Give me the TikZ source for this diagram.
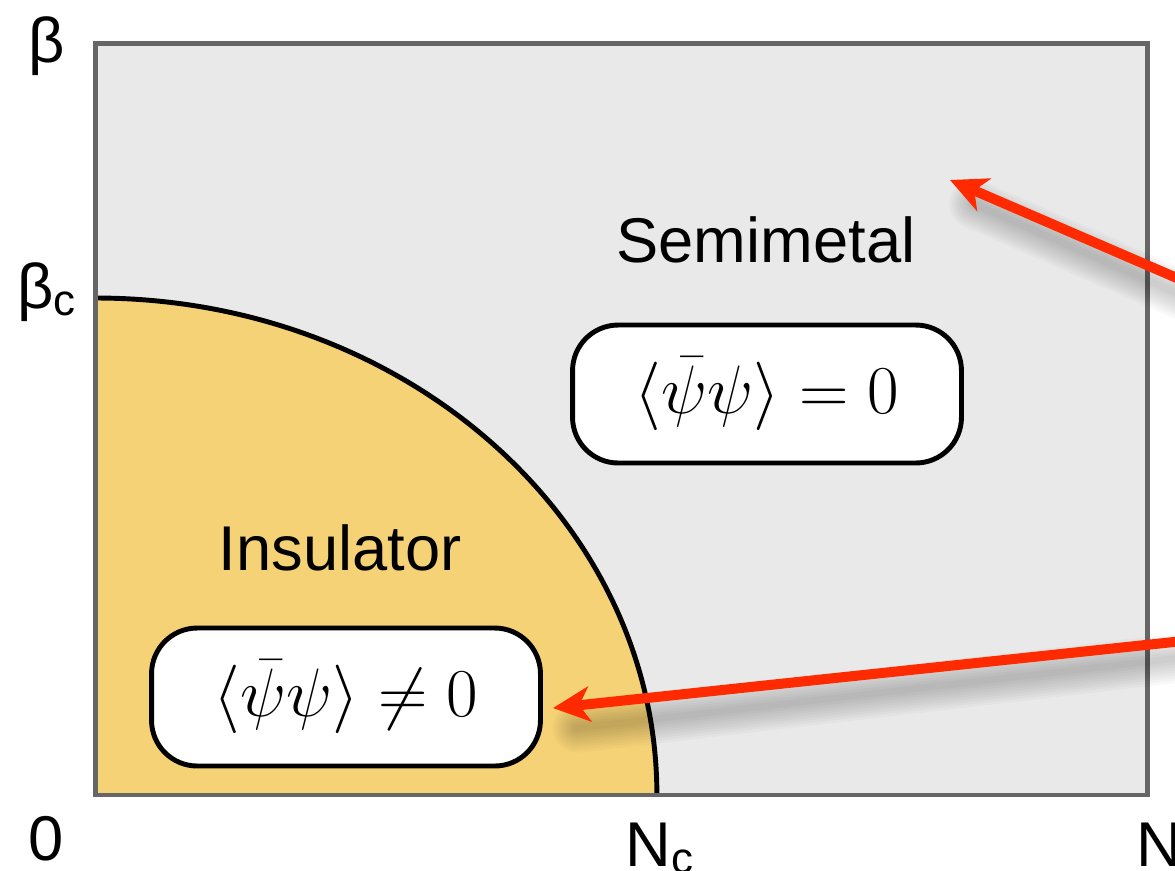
\documentclass[tikz,border=0pt]{standalone}
\usepackage{fix-cm}
\usepackage{fontspec}
\setmainfont{Liberation Sans}
\usetikzlibrary{arrows.meta,calc}
\definecolor{bgray}{HTML}{E9E9E9}
\definecolor{framegray}{HTML}{666666}
\definecolor{insyellow}{HTML}{F6D276}
\definecolor{arrred}{HTML}{FF2A00}
\newcommand\mysub[1]{\raisebox{-0.12em}{\fontsize{25}{25}\selectfont #1}}
\begin{document}
\begin{tikzpicture}[x=0.02cm,y=-0.02cm,
  lbl/.style={font=\fontsize{36}{40}\selectfont, inner sep=0pt, anchor=base},
  mbox/.style={draw=black, line width=2.8pt, fill=white, rounded corners=26pt,
    minimum width=7.78cm, minimum height=2.76cm, font=\fontsize{39}{42}\selectfont, inner sep=0pt},
  redarrow/.style={draw=arrred, line width=5.7pt, -{Stealth[length=21pt,width=20pt,inset=6pt]}},
  arrshadow/.style={draw=black, opacity=0.025, line cap=round},
]
\useasboundingbox (0,0) rectangle (1175,870);
% background region
\fill[bgray] (95.5,43.5) rectangle (1147.5,795);
% insulator region
\fill[insyellow] (95.5,795) -- (95.5,298) arc[start angle=90,end angle=0,x radius=11.23cm,y radius=9.94cm] -- cycle;
\draw[black, line width=2.8pt] (95.5,298) arc[start angle=90,end angle=0,x radius=11.23cm,y radius=9.94cm];
% frame
\draw[framegray, line width=2.8pt] (95.5,43.5) rectangle (1147.5,795);
% texts
\node[lbl] (semi) at (766,262) {Semimetal};
\node[lbl] (insul) at (340,570) {Insulator};
\node[mbox] (zero) at (767,394) {$\langle\bar\psi\psi\rangle = 0$};
\node[mbox] (nonzero) at (346,697) {$\langle\bar\psi\psi\rangle \neq 0$};
% axis labels
\node[lbl] (beta) at (47,62) {β};
\node[lbl,anchor=base west] (betac) at (17,308) {β\mysub{c}};
\node[lbl] (origin) at (46,860) {0};
\node[lbl,anchor=base west] (Nc) at (625,866) {N\mysub{c}};
\node[lbl,anchor=base west] (Nmax) at (1136,866) {N};
% arrows
\coordinate (s1) at (1230,301);
\coordinate (t1) at (950,180);
\coordinate (s2) at (1230,636);
\coordinate (t2) at (553,708);
\foreach \w in {4,7,10,13,16,19,22,25,28}{
  \draw[arrshadow, line width=\w pt] ($(s1)+(2,16)$) -- ($(t1)+(24,24)$);
  \draw[arrshadow, line width=\w pt] ($(s2)+(0,16)$) -- ($(t2)+(24,20)$);
}
\draw[redarrow] (s1) -- (t1);
\draw[redarrow] (s2) -- (t2);
\end{tikzpicture}
\end{document}
